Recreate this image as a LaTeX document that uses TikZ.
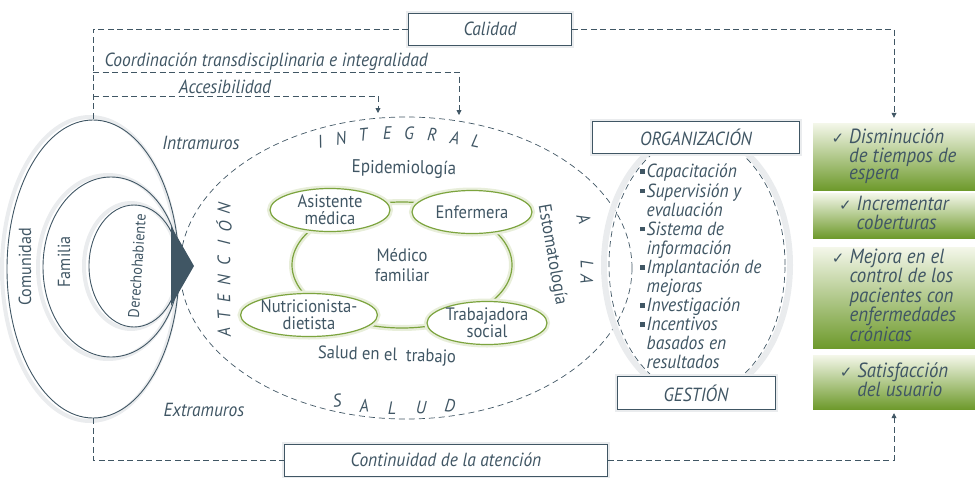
\documentclass[tikz,border=0pt]{standalone}
\usepackage{fontspec}
\setmainfont{PT Sans}[FakeStretch=0.92]
\newfontfamily\symfont{DejaVu Sans}
\usetikzlibrary{shapes,arrows.meta,positioning}
\definecolor{slate}{RGB}{64,86,100}
\definecolor{grn}{RGB}{124,164,62}
\definecolor{grnhalo}{RGB}{232,238,218}
\definecolor{gtop}{RGB}{244,247,234}
\definecolor{gbot}{RGB}{110,154,44}
\definecolor{haze}{RGB}{234,236,238}
\def\chk{{\symfont\fontsize{15}{15}\selectfont ✓}}
\def\sq{\rule[4pt]{4.5pt}{4.5pt}}

\begin{document}
\begin{tikzpicture}[x=1pt,y=-1pt,color=slate,font=\fontsize{19}{21}\selectfont]
    \tikzstyle{every node}=[text=slate]
    \tikzstyle{lbl}=[font=\fontsize{19}{21}\selectfont\itshape]
    \tikzstyle{letter}=[font=\fontsize{18}{18}\selectfont\itshape, inner sep=0pt]
    \tikzstyle{link}=[draw=slate, line width=0.8pt, dash pattern=on 6pt off 3.5pt]
    \tikzstyle{tip}=[-{Triangle[length=5pt,width=5pt]}]
    \tikzstyle{box}=[draw=slate, line width=0.9pt, fill=white, minimum height=32pt,
        preaction={draw=haze, line width=5pt}, font=\fontsize{19}{21}\selectfont\itshape]
    \tikzstyle{ring}=[ellipse, draw=slate, line width=0.9pt, inner sep=0pt]
    \tikzstyle{member}=[ellipse, draw=grn, line width=1.2pt, fill=white, inner sep=0pt,
        minimum width=120pt, minimum height=43pt, align=center,
        font=\fontsize{18}{17}\selectfont, preaction={draw=grnhalo, line width=6pt}]
    \tikzstyle{goal}=[rectangle, top color=gtop, bottom color=gbot, minimum width=162pt,
        inner sep=0pt, font=\fontsize{20.5}{16.7}\selectfont\itshape]

    \useasboundingbox (0,0) rectangle (975,477);

    % Draw the population rings
    \draw[haze, line width=4pt] (90,269) ellipse (88 and 152);
    \draw[haze, line width=4pt] (108,267) ellipse (70 and 92);
    \draw[haze, line width=4pt] (131,266) ellipse (47 and 63);
    \node[ring, minimum width=172pt, minimum height=298pt] (com) at (93,269) {};
    \node[ring, minimum width=136pt, minimum height=180pt] (fam) at (111,267) {};
    \node[ring, minimum width=90pt, minimum height=122pt] (der) at (134,266) {};
    \node[rotate=90, font=\fontsize{17.5}{17}\selectfont] (com-l) at (25,267) {Comunidad};
    \node[rotate=90, font=\fontsize{17.5}{17}\selectfont] (fam-l) at (64,262) {Familia};
    \node[rotate=86, font=\fontsize{15.5}{15}\selectfont] (der-l) at (137,266) {Derechohabiente};
    \fill[slate] (171,226) -- (194,266) -- (171,306) -- cycle;

    \node[lbl] (intra) at (201,143) {Intramuros};
    \node[lbl] (extra) at (204,410) {Extramuros};

    % Draw the care ellipse and its letters
    \node[ellipse, draw=slate, line width=0.7pt, dash pattern=on 6pt off 4pt,
        minimum width=452pt, minimum height=302pt, inner sep=0pt] (ate) at (406,268) {};
    \foreach \ch/\x/\y/\r [count=\i] in {I/320/142/12, N/341/138/9, T/363/135/6,
        E/387/133/2, G/409/133/-1, R/432/135/-5, A/455/138/-9, L/476/141/-12}
        \node[letter, rotate=\r] (int-\i) at (\x,\y) {\ch};
    \foreach \ch/\y/\r [count=\i] in {A/333/96, T/316/94, E/298/92, N/280/90,
        C/261/89, I/243/87, Ó/226/85, N/208/83}
        \node[letter, rotate=\r] (at-\i) at (224,\y) {\ch};
    \foreach \ch/\x/\y/\r [count=\i] in {A/584/219/-70, L/587/264/-88, A/587/279/-91}
        \node[letter, rotate=\r] (ala-\i) at (\x,\y) {\ch};
    \foreach \ch/\x/\y/\r [count=\i] in {S/337/401/8, A/364/406/4, L/392/408/0,
        U/421/408/-3, D/450/406/-6}
        \node[letter, rotate=\r] (sal-\i) at (\x,\y) {\ch};

    \node[font=\fontsize{18.5}{18}\selectfont, rotate=-1] (epi) at (404,169) {Epidemiología};
    \node[font=\fontsize{18}{18}\selectfont, rotate=-80, inner sep=1pt] (est) at (552,255) {Estomatología};
    \node[font=\fontsize{18}{18}\selectfont, rotate=-2] (st) at (387,356) {Salud en el\ \ trabajo};

    % Draw the health team
    \node[ellipse, draw=grn, line width=1.2pt, minimum width=220pt, minimum height=126pt,
        align=center, font=\fontsize{18}{20}\selectfont, preaction={draw=grnhalo, line width=6pt}]
        (mf) at (402,265) {Médico\\familiar};
    \node[member] (asi) at (330,210) {Asistente\\médica};
    \node[member] (enf) at (472,212) {Enfermera};
    \node[member] (nut) at (309,315) {Nutricionista-\\dietista};
    \node[member] (tra) at (487,323) {Trabajadora\\social};

    % Draw the management block
    \draw[haze, line width=6pt] (697,265) ellipse (93 and 132);
    \node[ellipse, draw=slate, line width=0.7pt, dash pattern=on 6pt off 4pt,
        minimum width=176pt, minimum height=258pt, inner sep=0pt] (og) at (697,265) {};
    \node[box, minimum width=207pt] (org) at (696,137) {ORGANIZACIÓN};
    \node[box, minimum width=158pt, minimum height=33pt] (ges) at (696,393) {GESTIÓN};
    \node[anchor=north west, inner sep=0pt, font=\fontsize{19}{18.4}\selectfont\itshape]
        (lst) at (640,164) {%
        \begin{tabular}{@{}l@{\hspace{2pt}}l@{}}
        \sq & Capacitación\\
        \sq & Supervisión y\\
            & evaluación\\
        \sq & Sistema de\\
            & información\\
        \sq & Implantación de\\
            & mejoras\\
        \sq & Investigación\\
        \sq & Incentivos\\
            & basados en\\
            & resultados
        \end{tabular}};

    % Draw the results
    \node[goal, minimum height=67pt] (g1) at (894,156.5) {%
        \begin{tabular}{@{}l@{\hspace{5pt}}l@{}}\chk & Disminución\\ & de tiempos de\\ & espera\end{tabular}};
    \node[goal, minimum height=45pt] (g2) at (894,215.5) {%
        \begin{tabular}{@{}l@{\hspace{5pt}}l@{}}\chk & Incrementar\\ & coberturas\end{tabular}};
    \node[goal, minimum height=101pt] (g3) at (894,297.5) {%
        \begin{tabular}{@{}l@{\hspace{5pt}}l@{}}\chk & Mejora en el\\ & control de los\\ & pacientes con\\ & enfermedades\\ & crónicas\end{tabular}};
    \node[goal, minimum height=54pt] (g4) at (894,382) {%
        \begin{tabular}{@{}l@{\hspace{5pt}}l@{}}\chk & Satisfacción\\ & del usuario\end{tabular}};

    % Draw the quality loops
    \node[box, minimum width=163pt] (cal) at (490,29) {Calidad};
    \node[box, minimum width=323pt] (con) at (446,460) {Continuidad de la atención};
    \coordinate (k1) at (93,72);
    \coordinate (k2) at (93,96);
    \coordinate (ka) at (459,115);
    \coordinate (kb) at (378,113);
    \draw[link] (cal.west) -| (com.north);
    \draw[link, tip] (k1) -| (ka);
    \draw[link, tip] (k2) -| (kb);
    \draw[link, tip, shorten >=5pt] (cal.east) -| (g1.north);
    \draw[link] (com.south) |- (con.west);
    \draw[link, tip, shorten >=4pt] (con.east) -| (g4.south);
    \node[lbl, anchor=west] (coo) at (101,62) {Coordinación transdisciplinaria e integralidad};
    \node[lbl] (acc) at (225,87) {Accesibilidad};
\end{tikzpicture}
\end{document}
